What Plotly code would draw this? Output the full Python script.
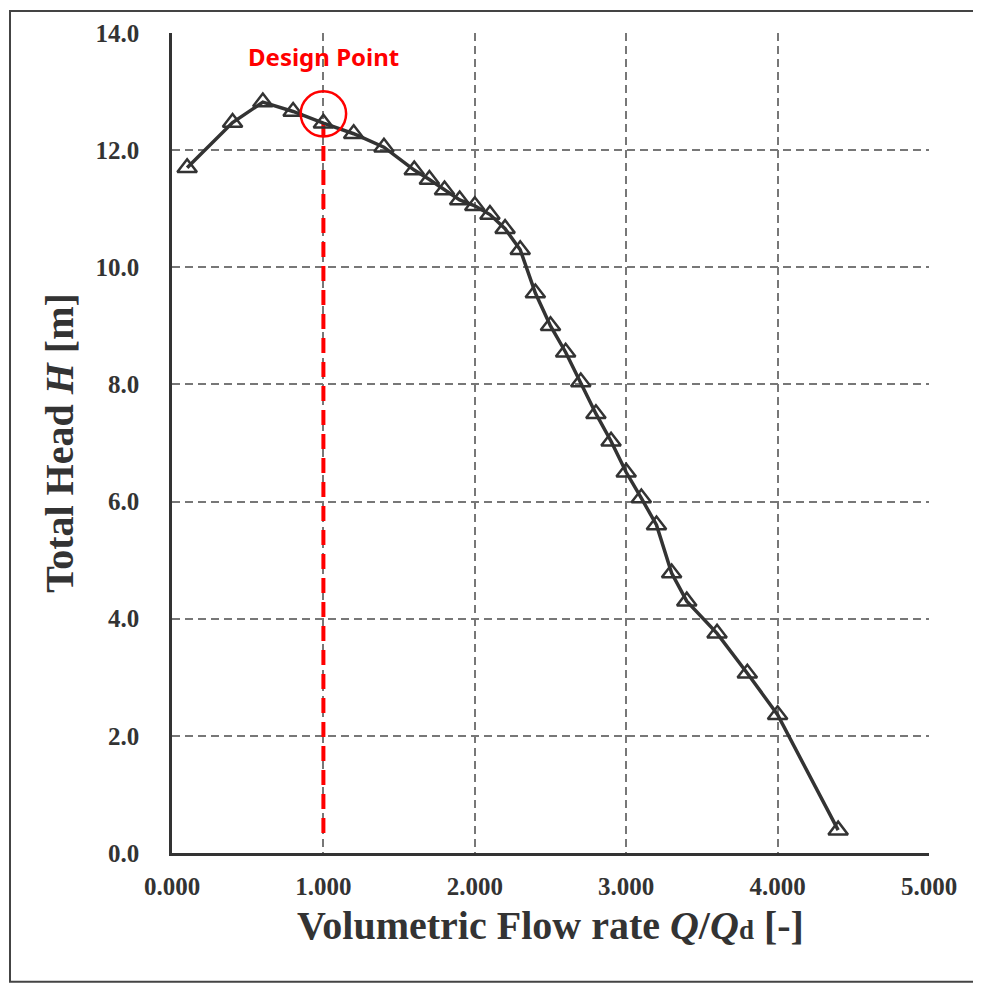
import plotly.graph_objects as go

flow_rate = [0.10, 0.40, 0.60, 0.80, 1.00, 1.20, 1.40, 1.60, 1.70, 1.80, 1.90, 2.00,
             2.10, 2.20, 2.30, 2.40, 2.50, 2.60, 2.70, 2.80, 2.90, 3.00, 3.10, 3.20,
             3.30, 3.40, 3.60, 3.80, 4.00, 4.40]
total_head = [11.70, 12.47, 12.82, 12.66, 12.46, 12.28, 12.05, 11.66, 11.50, 11.32, 11.15, 11.05,
              10.90, 10.66, 10.30, 9.56, 9.00, 8.55, 8.04, 7.50, 7.03, 6.50, 6.06, 5.60,
              4.78, 4.30, 3.75, 3.07, 2.36, 0.39]

x_ticks = [0, 1, 2, 3, 4, 5]
y_ticks = [0, 2, 4, 6, 8, 10, 12, 14]

design_q = 1.0
design_h_top = 12.58
design_h_bottom = 0.34
design_label = "Design Point"

fig = go.Figure()

fig.add_trace(go.Scatter(
    x=[design_q, design_q], y=[design_h_bottom, design_h_top],
    mode="lines", line=dict(color="#ff0000", width=4, dash="15px,9px"),
    showlegend=False, hoverinfo="skip"))

fig.add_trace(go.Scatter(
    x=flow_rate, y=total_head, mode="lines+markers",
    line=dict(color="#333333", width=3.5),
    marker=dict(symbol="triangle-up-open", size=17, color="#333333",
                line=dict(width=2.5, color="#333333")),
    showlegend=False))

# design point circle
fig.add_shape(type="circle", xref="x", yref="y",
              x0=design_q - 0.15, x1=design_q + 0.15,
              y0=12.62 - 0.385, y1=12.62 + 0.385,
              line=dict(color="#ff0000", width=2.5))

fig.add_annotation(x=design_q, y=13.6, xref="x", yref="y", text="<b>" + design_label + "</b>",
                   showarrow=False, font=dict(family="Noto Sans", size=24, color="#ff0000"))

# outer frame
PW, PH = 757, 822
fig.add_shape(type="rect", xref="paper", yref="paper",
              x0=(10 - 172) / PW, x1=1.3, y0=(853 - 982) / PH, y1=(853 - 9) / PH,
              line=dict(color="#444444", width=2), fillcolor="rgba(0,0,0,0)", layer="below")

tick_font = dict(family="Liberation Serif", size=25, color="#333333")
title_font = dict(family="Liberation Serif", size=40, color="#333333")

fig.update_layout(
    width=981, height=984,
    margin=dict(l=164, r=60, t=23, b=139),
    paper_bgcolor="white", plot_bgcolor="white",
    xaxis=dict(
        range=[0, 5], tickvals=x_ticks,
        ticktext=["<b>%.3f</b>" % v for v in x_ticks],
        tickfont=tick_font, ticks="", ticklabelstandoff=9,
        showgrid=True, gridcolor="#777777", griddash="8px,5px", gridwidth=1.6,
        showline=True, linecolor="#333333", linewidth=3, zeroline=False,
        title=dict(text="<b>Volumetric Flow rate <i>Q</i>/<i>Q</i><span style='font-size:27px'>d</span> [-]</b>",
                   font=title_font, standoff=12),
    ),
    yaxis=dict(
        range=[0, 14], tickvals=y_ticks,
        ticktext=["<b>%.1f</b>" % v for v in y_ticks],
        tickfont=tick_font, ticks="", ticklabelstandoff=25,
        showgrid=True, gridcolor="#777777", griddash="8px,5px", gridwidth=1.6,
        showline=True, linecolor="#333333", linewidth=2.5, zeroline=False,
        title=dict(text="<b>Total Head <i>H</i> [m]</b>", font=title_font, standoff=10),
    ),
)

fig.write_html("out.html")
